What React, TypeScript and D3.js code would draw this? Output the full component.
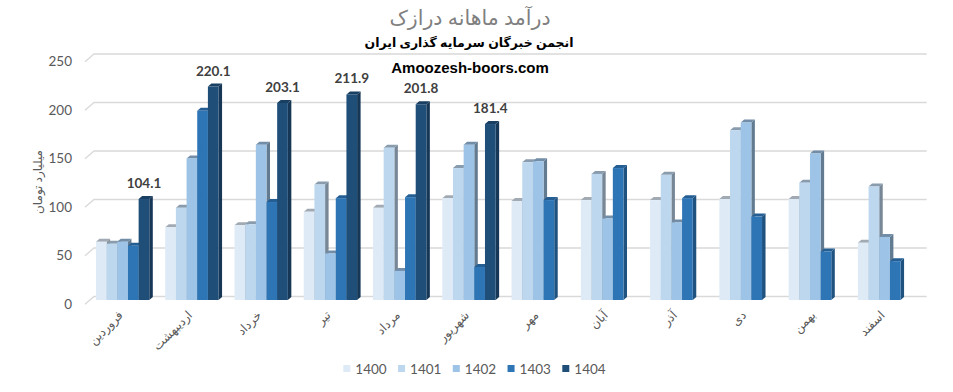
import React from "react";
import * as d3 from "d3";

const months = ["فروردین", "اردیبهشت", "خرداد", "تیر", "مرداد", "شهریور", "مهر", "آبان", "آذر", "دی", "بهمن", "اسفند"];
const seriesNames = ["1400", "1401", "1402", "1403", "1404"];
const s1400 = [60, 75, 77, 91, 95, 105, 102, 103, 103, 104, 104, 59];
const s1401 = [58, 95, 78, 119, 157, 136, 142, 130, 129, 175, 121, 117];
const s1402 = [60, 146, 160, 48, 30, 160, 143, 84, 80, 183, 151, 65];
const s1403 = [56, 195, 101, 105, 106, 34, 103, 136, 105, 86, 50, 40];
const s1404: (number | null)[] = [104.1, 220.1, 203.1, 211.9, 201.8, 181.4, null, null, null, null, null, null];
const yTicks = [0, 50, 100, 150, 200, 250];
const colors = ["#DEEBF7", "#BDD7EE", "#9DC3E6", "#2E75B6", "#1F4E79"];

const W = 953;
const H = 392;
const DX = 3.5;
const DY = 3;
const WALL_DX = 9;
const WALL_DY = 7.7;

export default function App() {
  const series = [s1400, s1401, s1402, s1403, s1404];
  const x = d3.scaleBand<string>().domain(months).range([88, 919.2]).paddingInner(0.23).paddingOuter(0.115);
  const xs = d3.scaleBand<string>().domain(seriesNames).range([0, x.bandwidth()]).padding(0);
  const yBack = d3.scaleLinear().domain([0, 250]).range([296.5, 54]);
  const yFront = d3.scaleLinear().domain([0, 250]).range([300, 57.5]);
  const latin = "Lato, 'Open Sans', sans-serif";
  const persian = "'Noto Sans', 'DejaVu Sans', sans-serif";
  const wallLeft = 94;
  const wallRight = 926.7;

  const bars: React.ReactNode[] = [];
  months.forEach((m, i) => {
    seriesNames.forEach((s, j) => {
      const v = series[j][i];
      if (v == null) return;
      const bx = (x(m) as number) + (xs(s) as number);
      const bw = xs.bandwidth();
      const ty = yFront(v);
      const by = yFront(0);
      const c = d3.color(colors[j])!;
      const side = c.darker(j < 3 ? 1.3 : 1.0).formatHex();
      const top = c.darker(j < 3 ? 0.9 : 0.6).formatHex();
      bars.push(
        <g key={`${i}-${j}`}>
          <polygon points={`${bx + bw},${ty} ${bx + bw + DX},${ty - DY} ${bx + bw + DX},${by - DY} ${bx + bw},${by}`} fill={side} />
          <polygon points={`${bx},${ty} ${bx + bw},${ty} ${bx + bw + DX},${ty - DY} ${bx + DX},${ty - DY}`} fill={top} />
          <rect x={bx} y={ty} width={bw} height={by - ty} fill={colors[j]} />
        </g>
      );
    });
  });

  const labels: React.ReactNode[] = [];
  months.forEach((m, i) => {
    const v = s1404[i];
    if (v == null) return;
    const bx = (x(m) as number) + (xs("1404") as number) + xs.bandwidth() / 2;
    labels.push(
      <text key={`l${i}`} x={bx} y={yFront(v) - 11} textAnchor="middle" fontFamily={latin} fontWeight="bold" fontSize={13.5} fill="#404040">
        {v.toFixed(1)}
      </text>
    );
  });

  return (
    <svg width={W} height={H} style={{ position: "absolute", left: 0, top: 0 }}>
      <rect width={W} height={H} fill="#fff" />
      {yTicks.map((t) => (
        <g key={t}>
          <polyline
            points={`${wallLeft - WALL_DX},${yBack(t) + WALL_DY} ${wallLeft},${yBack(t)} ${wallRight},${yBack(t)}`}
            fill="none"
            stroke="#d9d9d9"
            strokeWidth={1.3}
          />
          <text x={72} y={yBack(t) + WALL_DY} dy="0.35em" textAnchor="end" fontFamily={latin} fontSize={13.5} fill="#595959">
            {t}
          </text>
        </g>
      ))}
      {bars}
      {labels}
      {months.map((m) => {
        const cx = (x(m) as number) + x.bandwidth() / 2 + 1;
        return (
          <text key={m} transform={`translate(${cx},${316}) rotate(-45)`} textAnchor="end" fontFamily={persian} fontSize={12} fill="#595959">
            {m}
          </text>
        );
      })}
      <text transform={`translate(42,182) rotate(-90)`} textAnchor="middle" fontFamily={persian} fontSize={12} fill="#595959">
        میلیارد تومان
      </text>
      <text x={470} y={25} textAnchor="middle" fontFamily={persian} fontSize={20.5} fill="#7f7f7f">
        درآمد ماهانه درازک
      </text>
      <text x={469} y={47} textAnchor="middle" fontFamily={persian} fontWeight="bold" fontSize={12.5} fill="#000">
        انجمن خبرگان سرمایه گذاری ایران
      </text>
      <text x={470} y={73} textAnchor="middle" fontFamily="'Liberation Sans', Arial, sans-serif" fontWeight="bold" fontSize={15} fill="#000">
        Amoozesh-boors.com
      </text>
      {seriesNames.map((s, j) => {
        const lx = 343.3 + j * 54.75;
        return (
          <g key={s}>
            <rect x={lx} y={365} width={7} height={7} fill={colors[j]} />
            <text x={lx + 12} y={369} dy="0.35em" fontFamily={latin} fontSize={13.5} fill="#595959">
              {s}
            </text>
          </g>
        );
      })}
    </svg>
  );
}
